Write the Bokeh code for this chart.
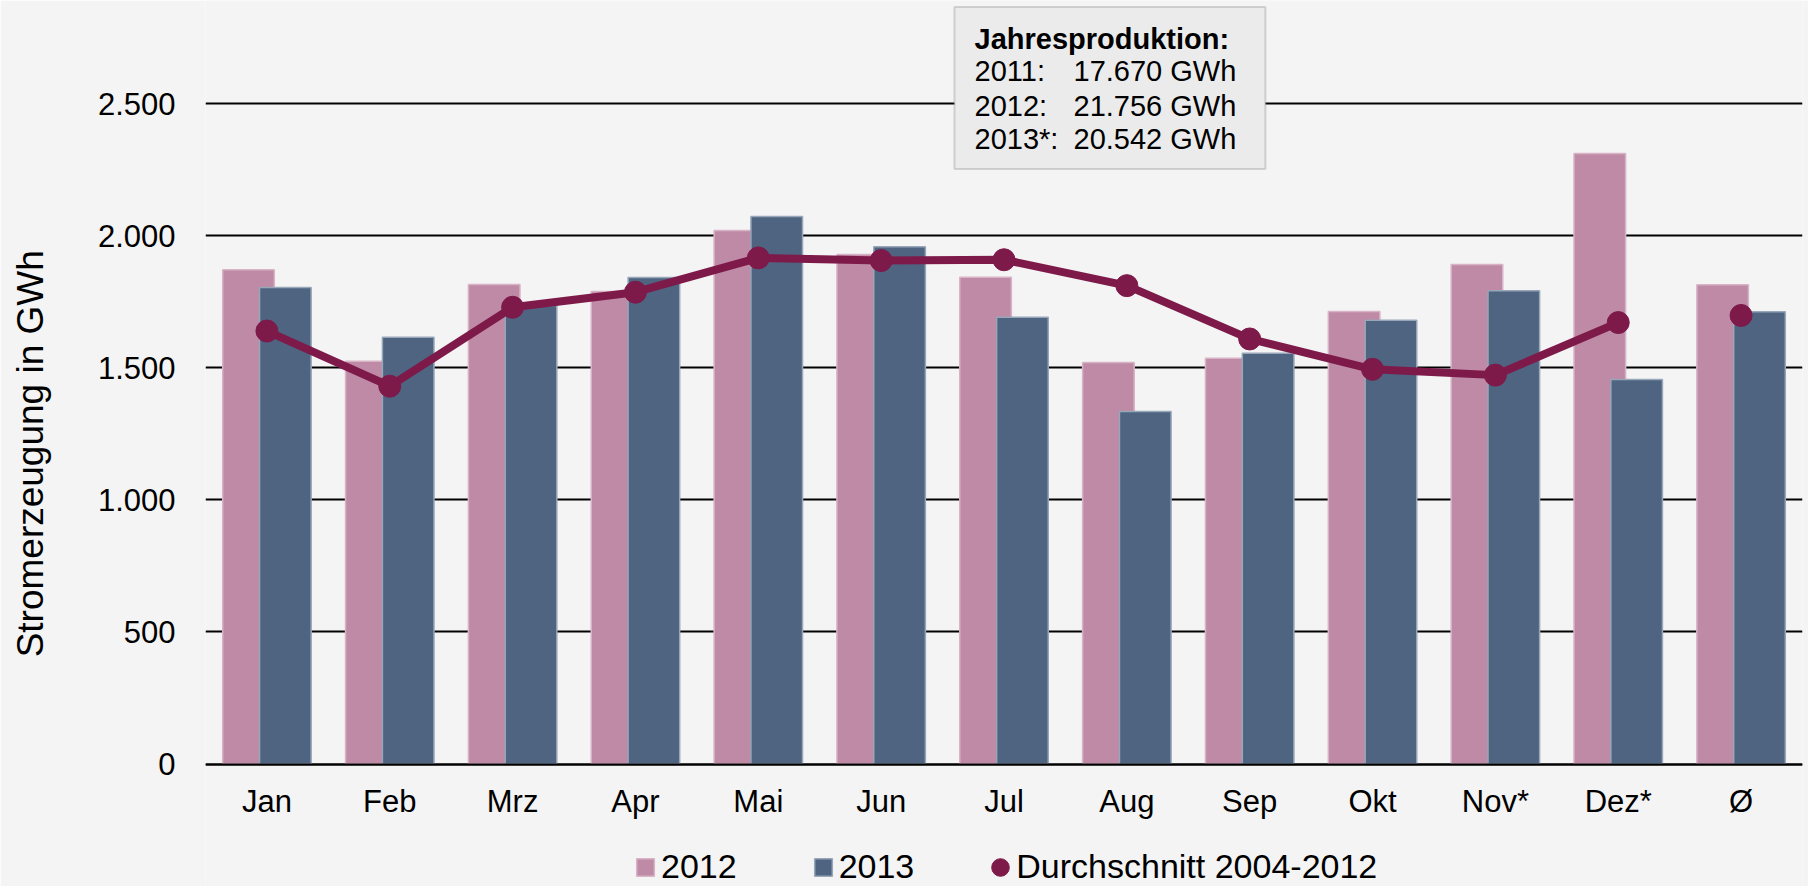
import math
from bokeh.plotting import figure
from bokeh.models import (ColumnDataSource, FactorRange, Range1d, FixedTicker, Legend, LegendItem,
                          BoxAnnotation, Label)
from bokeh.transform import dodge
from bokeh.embed import file_html
from bokeh.resources import INLINE

# ---------------- data ----------------
categories = ["Jan", "Feb", "Mrz", "Apr", "Mai", "Jun", "Jul", "Aug", "Sep", "Okt", "Nov*", "Dez*", "Ø"]
values_2012 = [1872, 1526, 1816, 1790, 2021, 1930, 1844, 1521, 1537, 1714, 1892, 2312, 1815]
values_2013 = [1805, 1616, 1737, 1843, 2074, 1959, 1692, 1335, 1556, 1681, 1793, 1456, 1713]
avg_2004_2012 = [1640, 1431, 1730, 1787, 1917, 1907, 1910, 1812, 1610, 1495, 1473, 1672, 1699]
y_ticks = [0, 500, 1000, 1500, 2000, 2500]
annual_years = ["2011:", "2012:", "2013*:"]
annual_totals = [17670, 21756, 20542]

def de_num(v):
    return f"{v:,}".replace(",", ".")

FONT = "Liberation Sans"
BG = "#F4F4F4"
C12 = "#BF8AA5"
C13 = "#4E6480"
CAVG = "#7E1A4A"

src = ColumnDataSource(dict(cat=categories, v12=values_2012, v13=values_2013, avg=avg_2004_2012))
line_src = ColumnDataSource(dict(cat=categories[:12], avg=avg_2004_2012[:12]))

p = figure(width=1808, height=886, output_backend="svg", toolbar_location=None,
           x_range=FactorRange(factors=categories, range_padding=0),
           y_range=Range1d(-464, 2892),
           min_border_left=205, min_border_right=6, min_border_top=0, min_border_bottom=0,
           background_fill_color=BG, border_fill_color=BG, outline_line_color=None)

r12 = p.vbar(x=dodge("cat", -0.15, range=p.x_range), top="v12", width=0.42, source=src,
             fill_color=C12, line_color="#D8B3C6", line_width=1.5)
r13 = p.vbar(x=dodge("cat", 0.15, range=p.x_range), top="v13", width=0.42, source=src,
             fill_color=C13, line_color="#97A6B8", line_width=1.5)
p.line(x="cat", y="avg", source=line_src, line_color=CAVG, line_width=8)
rdot = p.ellipse(x="cat", y="avg", width=22, height=22, width_units="screen", height_units="screen",
                 source=src, fill_color=CAVG, line_color=CAVG)

# x axis drawn at value 0 inside the frame
p.xaxis.fixed_location = 0
p.xaxis.axis_line_color = "black"
p.xaxis.axis_line_width = 2
p.xaxis.major_tick_line_color = None
p.xaxis.minor_tick_line_color = None
p.xaxis.major_tick_out = 0
p.xaxis.major_tick_in = 0
p.xaxis.major_label_standoff = 20
p.xaxis.major_label_text_font = FONT
p.xaxis.major_label_text_font_size = "31px"
p.xaxis.major_label_text_color = "black"
p.xgrid.grid_line_color = None

p.yaxis.ticker = FixedTicker(ticks=y_ticks)
p.yaxis.major_label_overrides = {t: de_num(t) for t in y_ticks}
p.yaxis.axis_line_color = None
p.yaxis.major_tick_line_color = None
p.yaxis.minor_tick_line_color = None
p.yaxis.major_tick_out = 0
p.yaxis.major_tick_in = 0
p.yaxis.major_label_standoff = 30
p.yaxis.major_label_text_font = FONT
p.yaxis.major_label_text_font_size = "31px"
p.yaxis.major_label_text_color = "black"
p.yaxis.axis_label = "Stromerzeugung in GWh\u00a0\u00a0"
p.yaxis.axis_label_standoff = 44
p.yaxis.axis_label_text_font = FONT
p.yaxis.axis_label_text_font_size = "37px"
p.yaxis.axis_label_text_font_style = "normal"
p.yaxis.axis_label_text_color = "black"
p.ygrid.ticker = FixedTicker(ticks=y_ticks)
p.ygrid.grid_line_color = "black"
p.ygrid.grid_line_width = 2

# annotation box
p.add_layout(BoxAnnotation(left=6.097, right=8.628, bottom=2254, top=2867,
                           fill_color="#EBEBEB", fill_alpha=1, line_color="#808080", line_width=2))
p.add_layout(Label(x=6.26, y=2747, text="Jahresproduktion:", text_font=FONT, text_font_size="29px",
                   text_font_style="bold", text_baseline="alphabetic", text_color="black"))
for yr, tot, yb in zip(annual_years, annual_totals, [2625, 2492, 2366]):
    p.add_layout(Label(x=6.26, y=yb, text=yr, text_font=FONT, text_font_size="29px",
                       text_baseline="alphabetic", text_color="black"))
    p.add_layout(Label(x=7.066, y=yb, text=de_num(tot) + " GWh", text_font=FONT, text_font_size="29px",
                       text_baseline="alphabetic", text_color="black"))

legend = Legend(items=[LegendItem(label="2012", renderers=[r12]),
                       LegendItem(label="2013", renderers=[r13]),
                       LegendItem(label="Durchschnitt 2004-2012", renderers=[rdot])],
                orientation="horizontal", location=(429, 0),
                glyph_width=22, glyph_height=22, label_standoff=5, spacing=75,
                padding=0, margin=0, border_line_color=None, background_fill_alpha=0,
                label_text_font=FONT, label_text_font_size="34px", label_text_color="black")
p.add_layout(legend)

open("out.html", "w").write(file_html(p, INLINE))
